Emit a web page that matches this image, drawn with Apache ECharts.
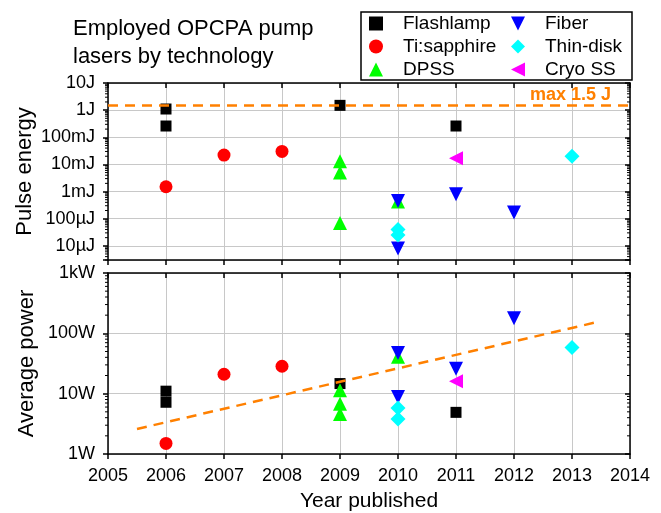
<!DOCTYPE html>
<html lang="en">
<head>
<meta charset="UTF-8">
<title>OPCPA pump lasers</title>
<style>
    *{margin:0;padding:0;}
    html,body{width:100%;height:100%;background:#fff;}
    #chart{width:661px;height:513px;}
</style>
</head>
<body>
<div id="chart"></div>
<script src="https://cdn.jsdelivr.net/npm/echarts@6/dist/echarts.min.js"></script>
<script>
// pulse energy in J
const flashlampEnergy = [[2006, 1.1], [2006, 0.26], [2009, 1.5], [2011, 0.26]];
const tisaphEnergy = [[2006, 0.0015], [2007, 0.022], [2008, 0.03]];
const dpssEnergy = [[2009, 0.013], [2009, 0.005], [2009, 0.00007], [2010, 0.00043]];
const fiberEnergy = [[2010, 0.00045], [2010, 0.000008], [2011, 0.0008], [2012, 0.00017]];
const thindiskEnergy = [[2010, 0.00004], [2010, 0.000025], [2013, 0.02]];
const cryoEnergy = [[2011, 0.017]];
const maxEnergy = 1.5;

// average power in W
const flashlampPower = [[2006, 11], [2006, 7.2], [2009, 14.7], [2011, 4.9]];
const tisaphPower = [[2006, 1.5], [2007, 21], [2008, 28.5]];
const dpssPower = [[2009, 11.4], [2009, 6.8], [2009, 4.6], [2010, 41]];
const fiberPower = [[2010, 47], [2010, 8.8], [2011, 26], [2012, 178]];
const thindiskPower = [[2010, 5.8], [2010, 3.8], [2013, 58]];
const cryoPower = [[2011, 16]];
const trendPower = [[2005.5, 2.6], [2013.45, 155]];

const legendLeft = ['Flashlamp', 'Ti:sapphire', 'DPSS'];
const legendRight = ['Fiber', 'Thin-disk', 'Cryo SS'];

const yearMin = 2005, yearMax = 2014;
const orange = '#ff8000';
const font = 'Liberation Sans, Arial, sans-serif';

function isDecade(v) {
    const l = Math.log10(v);
    return Math.abs(l - Math.round(l)) < 1e-6 ? Math.round(l) : null;
}
function energyLabel(v) {
    const e = isDecade(v);
    if (e === null) return '';
    if (e >= 0) return Math.pow(10, e) + 'J';
    if (e >= -3) return Math.pow(10, e + 3) + 'mJ';
    return Math.pow(10, e + 6) + 'µJ';
}
function powerLabel(v) {
    const e = isDecade(v);
    if (e === null) return '';
    if (e >= 3) return Math.pow(10, e - 3) + 'kW';
    return Math.pow(10, e) + 'W';
}

// log minor ticks (2..9 per decade) on left and right edges
function minorTicks(lo, hi) {
    const out = [];
    for (let k = Math.floor(Math.log10(lo)); k < Math.ceil(Math.log10(hi)); k++) {
        for (let m = 2; m <= 9; m++) {
            const v = m * Math.pow(10, k);
            if (v >= lo && v <= hi) {
                out.push([yearMin, v]);
                out.push([yearMax, v]);
            }
        }
    }
    return out;
}

const axisLine = {show: true, onZero: false, lineStyle: {color: '#000', width: 1.5}};
const gridLine = {show: true, lineStyle: {color: '#c8c8c8', width: 1}};
const label = {color: '#000', fontSize: 18, fontFamily: font};

function xAx(gi, pos, withLabels) {
    return {
        type: 'value', gridIndex: gi, position: pos, min: yearMin, max: yearMax, interval: 1,
        axisLine: axisLine,
        axisTick: {show: true, inside: pos === 'top', length: 5, lineStyle: {color: '#000', width: 1.5}},
        axisLabel: {show: withLabels, margin: 13, formatter: v => String(v), ...label},
        splitLine: pos === 'bottom' ? gridLine : {show: false},
        name: withLabels ? 'Year published' : '',
        nameLocation: 'middle', nameGap: 37,
        nameTextStyle: {color: '#000', fontSize: 21, fontFamily: font}
    };
}
function yAx(gi, pos, min, max, fmt, name, gap) {
    return {
        type: 'log', logBase: 10, gridIndex: gi, position: pos, min: min, max: max,
        axisLine: axisLine,
        axisTick: {show: true, inside: pos === 'right', length: 5, lineStyle: {color: '#000', width: 1.5}},
        axisLabel: {show: pos === 'left', margin: 13, formatter: fmt, ...label},
        splitLine: pos === 'left' ? gridLine : {show: false},
        name: pos === 'left' ? name : '',
        nameLocation: 'middle', nameGap: gap, nameRotate: 90, nameMoveOverlap: false,
        nameTextStyle: {color: '#000', fontSize: 22, fontFamily: font}
    };
}

const downTriangle = 'path://M0,0 L10,0 L5,10 Z';
const leftTriangle = 'path://M10,0 L10,10 L0,5 Z';
const styles = {
    'Flashlamp': {symbol: 'rect', icon: 'rect', size: 11, color: '#000000', rotate: 0},
    'Ti:sapphire': {symbol: 'circle', icon: 'circle', size: 13, color: '#ff0000', rotate: 0},
    'DPSS': {symbol: 'triangle', icon: 'triangle', size: 14, color: '#00ff00', rotate: 0},
    'Fiber': {symbol: 'triangle', icon: downTriangle, size: 14, color: '#0000ff', rotate: 180},
    'Thin-disk': {symbol: 'diamond', icon: 'diamond', size: 15, color: '#00ffff', rotate: 0},
    'Cryo SS': {symbol: 'triangle', icon: leftTriangle, size: 14, color: '#ff00ff', rotate: 90}
};
function scatter(name, data, gi) {
    const s = styles[name];
    return {
        name: name, type: 'scatter', xAxisIndex: gi * 2, yAxisIndex: gi * 2,
        data: data, symbol: s.symbol, symbolSize: s.size, symbolRotate: s.rotate,
        itemStyle: {color: s.color, opacity: 1}, z: 3
    };
}
function tickSeries(gi, lo, hi) {
    return {
        type: 'custom', xAxisIndex: gi * 2, yAxisIndex: gi * 2, data: minorTicks(lo, hi),
        silent: true, z: 5,
        renderItem: function (params, api) {
            const p = api.coord([api.value(0), api.value(1)]);
            return {type: 'line', shape: {x1: p[0] - 3, y1: p[1], x2: p[0], y2: p[1]},
                style: {stroke: '#000', lineWidth: 1}};
        }
    };
}
function legendItems(names) {
    return names.map(n => ({
        name: n, icon: styles[n].icon, symbolRotate: 0,
        itemStyle: {color: styles[n].color}
    }));
}

const eMin = 3e-6, eMax = 10, pMin = 1, pMax = 1000;

const legendBase = {
    orient: 'vertical', top: 9, itemWidth: 14, itemHeight: 14, itemGap: 4,
    symbolKeepAspect: true, symbolRotate: 0,
    textStyle: {color: '#000', fontSize: 19, lineHeight: 19, fontFamily: font, padding: [0, 0, 0, 15]},
    selectedMode: false
};

const option = {
    animation: false,
    backgroundColor: '#fff',
    title: {
        text: 'Employed OPCPA pump\nlasers by technology',
        left: 68, top: 10,
        textStyle: {color: '#000', fontSize: 22, fontWeight: 'normal', lineHeight: 28, fontFamily: font}
    },
    legend: [
        {...legendBase, left: 364, data: legendItems(legendLeft)},
        {...legendBase, left: 506, data: legendItems(legendRight)}
    ],
    graphic: [{
        type: 'rect', shape: {x: 361, y: 12, width: 271, height: 68},
        style: {fill: 'none', stroke: '#000', lineWidth: 1.5}, z: -1
    }],
    grid: [
        {left: 108, top: 83, width: 522, height: 177},
        {left: 108, top: 273, width: 522, height: 181}
    ],
    xAxis: [xAx(0, 'bottom', false), xAx(0, 'top', false), xAx(1, 'bottom', true), xAx(1, 'top', false)],
    yAxis: [
        yAx(0, 'left', eMin, eMax, energyLabel, 'Pulse energy', 72),
        yAx(0, 'right', eMin, eMax, energyLabel, '', 72),
        yAx(1, 'left', pMin, pMax, powerLabel, 'Average power', 70),
        yAx(1, 'right', pMin, pMax, powerLabel, '', 70)
    ],
    series: [
        Object.assign(scatter('Flashlamp', flashlampEnergy, 0), {
            markLine: {
                silent: true, symbol: 'none',
                lineStyle: {color: orange, width: 2.5, type: [10, 7]},
                label: {
                    show: true, position: 'insideEndTop', formatter: 'max 1.5 J',
                    color: orange, fontSize: 18, fontWeight: 'bold', fontFamily: font,
                    distance: [13, 1], offset: [-6, 0]
                },
                data: [{yAxis: maxEnergy}]
            }
        }),
        scatter('Ti:sapphire', tisaphEnergy, 0),
        scatter('DPSS', dpssEnergy, 0),
        scatter('Fiber', fiberEnergy, 0),
        scatter('Thin-disk', thindiskEnergy, 0),
        scatter('Cryo SS', cryoEnergy, 0),
        scatter('Flashlamp', flashlampPower, 1),
        scatter('Ti:sapphire', tisaphPower, 1),
        scatter('DPSS', dpssPower, 1),
        scatter('Fiber', fiberPower, 1),
        scatter('Thin-disk', thindiskPower, 1),
        scatter('Cryo SS', cryoPower, 1),
        {
            type: 'line', xAxisIndex: 2, yAxisIndex: 2, data: trendPower, symbol: 'none',
            lineStyle: {color: orange, width: 2.5, type: [10, 7]}, z: 4, silent: true
        },
        tickSeries(0, eMin, eMax),
        tickSeries(1, pMin, pMax)
    ]
};

const myChart = echarts.init(document.getElementById('chart'));
myChart.setOption(option);
</script>
</body>
</html>
